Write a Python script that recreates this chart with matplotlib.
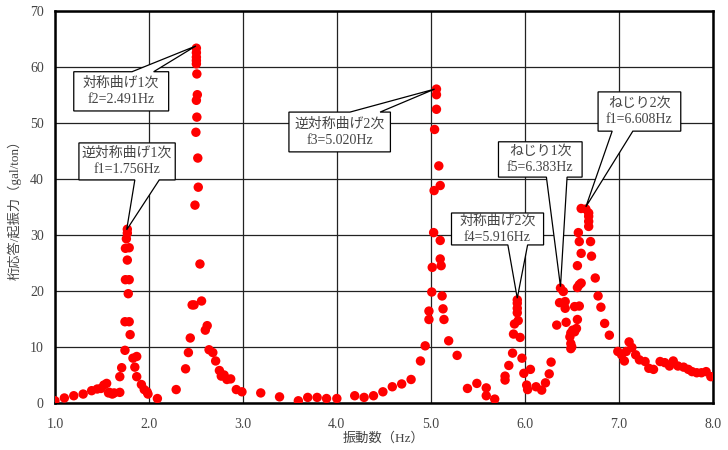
import matplotlib
matplotlib.use("Agg")
import matplotlib.pyplot as plt
from matplotlib.patches import Polygon

plt.rcParams['font.family'] = ['Liberation Serif', 'Noto Sans CJK JP', 'DejaVu Sans']

# measured response per unit exciting force
freq_low = [1.00, 1.10, 1.20, 1.30, 1.39, 1.45, 1.49, 1.52, 1.55, 1.57, 1.58, 1.61,
            1.63, 1.69, 1.69, 1.71, 1.745, 1.745, 1.79, 1.80, 1.78, 1.75, 1.79, 1.77,
            1.75, 1.79, 1.76, 1.77, 1.77, 1.83, 1.87, 1.85, 1.87, 1.92, 1.95, 1.98,
            1.99, 2.09]
resp_low = [0.4, 0.9, 1.3, 1.6, 2.2, 2.5, 2.6, 3.2, 3.5, 1.8, 1.9, 1.6,
            1.8, 1.9, 4.7, 6.3, 9.4, 14.5, 14.5, 12.2, 19.5, 22.0, 22.0, 25.5,
            27.6, 27.7, 29.3, 30.3, 31.0, 8.0, 8.3, 6.4, 4.7, 3.3, 2.4, 2.0,
            1.6, 0.8]

freq_mid = [2.29, 2.39, 2.42, 2.44, 2.46, 2.48, 2.49, 2.50, 2.505, 2.515, 2.51, 2.52,
            2.525, 2.51, 2.505, 2.505, 2.505, 2.505, 2.505, 2.543, 2.56, 2.60, 2.62,
            2.64, 2.68, 2.71, 2.75, 2.77, 2.80, 2.83, 2.87, 2.93, 2.99, 3.19, 3.39,
            3.59, 3.69, 3.79, 3.89, 4.00, 4.19, 4.29, 4.39, 4.49, 4.59, 4.69, 4.79,
            4.89, 4.94, 4.98, 4.98, 5.01, 5.015, 5.03, 5.035, 5.04, 5.06, 5.06, 5.06,
            5.085, 5.10, 5.10, 5.10, 5.11, 5.12, 5.13, 5.14, 5.19, 5.28, 5.39, 5.49,
            5.59, 5.59, 5.68]
resp_mid = [2.4, 6.1, 9.0, 11.6, 17.5, 17.5, 35.3, 48.3, 54.0, 55.0, 51.0, 43.7,
            38.5, 58.7, 60.5, 61.1, 61.7, 62.5, 63.3, 24.8, 18.2, 13.0, 13.8,
            9.5, 9.0, 7.5, 5.8, 4.8, 5.0, 4.2, 4.3, 2.4, 2.0, 1.8, 1.1,
            0.4, 1.0, 1.0, 0.8, 0.8, 1.3, 1.0, 1.3, 2.0, 2.9, 3.4, 4.2,
            7.5, 10.2, 14.9, 16.4, 19.8, 24.2, 30.4, 37.9, 48.8, 52.4, 55.0, 56.0,
            42.3, 38.8, 29.0, 25.7, 24.5, 19.1, 16.8, 14.9, 11.1, 8.5, 2.6, 3.5,
            2.7, 1.3, 0.7]

freq_high = [5.79, 5.79, 5.83, 5.87, 5.88, 5.95, 5.89, 5.93, 5.92, 5.92, 5.92, 5.92,
             5.97, 5.99, 6.02, 6.03, 6.06, 6.12, 6.18, 6.22, 6.26, 6.28, 6.34, 6.38,
             6.41, 6.37, 6.43, 6.43, 6.44, 6.49, 6.51, 6.48, 6.49, 6.49, 6.50, 6.55,
             6.53, 6.56, 6.53, 6.58, 6.56, 6.58, 6.60, 6.56, 6.60, 6.58, 6.57, 6.68,
             6.68, 6.68, 6.60, 6.65, 6.68, 6.70, 6.71, 6.75, 6.78, 6.81, 6.85, 6.90,
             6.99, 7.03, 7.06, 7.08, 7.11, 7.14, 7.18, 7.22, 7.28, 7.32, 7.37, 7.44,
             7.49, 7.54, 7.58, 7.63, 7.69, 7.74, 7.78, 7.83, 7.88, 7.93, 7.98]
resp_high = [4.8, 4.1, 6.7, 8.9, 12.3, 11.7, 14.1, 14.7, 16.1, 16.9, 17.8, 18.4,
             8.0, 5.3, 3.2, 2.4, 6.0, 2.9, 2.3, 3.6, 5.2, 7.3, 13.9, 20.5,
             19.9, 17.9, 18.1, 16.9, 14.4, 12.5, 13.0, 11.8, 10.6, 9.7, 10.0, 13.3,
             12.7, 14.9, 17.2, 17.3, 20.6, 21.1, 21.4, 24.5, 26.7, 28.8, 30.4, 31.5,
             32.4, 33.3, 34.7, 34.6, 33.9, 28.8, 26.2, 22.3, 19.1, 17.1, 14.2, 12.1,
             9.2, 8.6, 7.5, 9.2, 10.9, 9.9, 8.6, 7.7, 7.4, 6.2, 6.0, 7.4,
             7.2, 6.6, 7.5, 6.6, 6.4, 6.0, 5.6, 5.4, 5.4, 5.6, 4.7]

# mode labels
mode_names = ['対称曲げ1次', '逆対称曲げ1次', '逆対称曲げ2次', '対称曲げ2次', 'ねじり1次', 'ねじり2次']
mode_freqs = ['f2=2.491Hz', 'f1=1.756Hz', 'f3=5.020Hz', 'f4=5.916Hz', 'f5=6.383Hz', 'f1=6.608Hz']

# callout layout: box (x0, y0, x1, y1), side of pointer, pointer base x's, tip
callouts = [
    ((1.20, 52.1, 2.21, 59.1), 'top', (1.82, 2.05), (2.50, 63.7)),
    ((1.255, 39.8, 2.28, 46.4), 'bottom', (1.85, 2.11), (1.763, 30.9)),
    ((3.49, 44.8, 4.57, 51.9), 'top', (4.14, 4.46), (5.04, 56.0)),
    ((5.22, 28.2, 6.20, 33.9), 'bottom', (5.82, 6.03), (5.92, 18.7)),
    ((5.72, 40.3, 6.61, 46.6), 'bottom', (6.23, 6.45), (6.38, 20.75)),
    ((6.78, 48.5, 7.66, 55.5), 'bottom', (6.93, 7.15), (6.65, 35.0)),
]

fig = plt.figure(figsize=(7.28, 4.5), dpi=100)
ax = fig.add_axes([0.0755, 0.1044, 0.9035, 0.872])

for fx, ry in [(freq_low, resp_low), (freq_mid, resp_mid), (freq_high, resp_high)]:
    ax.scatter(fx, ry, s=46, color='#ff0000', edgecolors='none', zorder=3)

ax.set_xlim(1.0, 8.0)
ax.set_ylim(0, 70)
ax.set_xticks([1, 2, 3, 4, 5, 6, 7, 8])
ax.set_xticklabels(['%.1f' % v for v in range(1, 9)])
ax.set_yticks(range(0, 71, 10))
ax.grid(True, color='#222222', linewidth=0.9)
ax.set_axisbelow(True)
for sp in ax.spines.values():
    sp.set_linewidth(1.8)
    sp.set_color('black')
ax.tick_params(length=0, labelsize=10, labelcolor='#444444')
ax.tick_params(axis='x', pad=11)
ax.tick_params(axis='y', pad=8)

ax.set_xlabel('振動数（Hz）', fontsize=9.5, color='#444444', labelpad=1)
ax.set_ylabel('桁応答/起振力（gal/ton）', fontsize=9.5, color='#444444', labelpad=6)

for (box, side, base, tip), name, fr in zip(callouts, mode_names, mode_freqs):
    x0, y0, x1, y1 = box
    b1, b2 = base
    if side == 'top':
        verts = [(x0, y0), (x0, y1), (b1, y1), tip, (b2, y1), (x1, y1), (x1, y0)]
    else:
        verts = [(x0, y1), (x1, y1), (x1, y0), (b2, y0), tip, (b1, y0), (x0, y0)]
    ax.add_patch(Polygon(verts, closed=True, facecolor='white', edgecolor='black',
                         linewidth=0.9, zorder=4))
    ax.text((x0 + x1) / 2, (y0 + y1) / 2, name + '\n' + fr, ha='center', va='center',
            fontsize=10, color='#444444', linespacing=1.3, zorder=5)

fig.savefig('out.png', dpi=100)
